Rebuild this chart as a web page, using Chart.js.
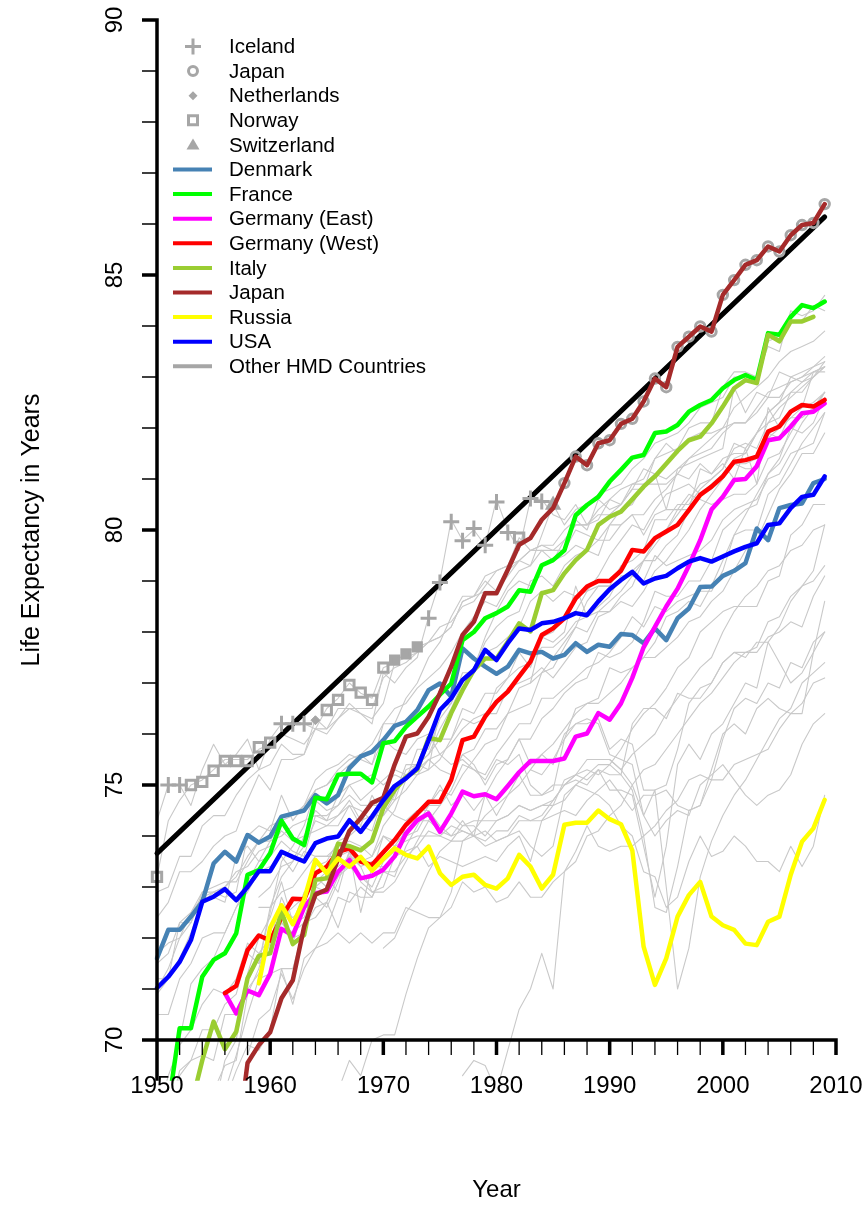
<!DOCTYPE html>
<html>
<head>
<meta charset="utf-8">
<script src="https://cdn.jsdelivr.net/npm/chart.js@4.4.1/dist/chart.umd.min.js"></script>
<style>
html, body { margin: 0; padding: 0; background: #fff; }
canvas { display: block; }
</style>
</head>
<body>
<canvas id="leChart" width="866" height="1205"></canvas>
<script>
// female life expectancy (one value per year)
const denmark = [ // from 1950
  71.60, 72.16, 72.16, 72.42, 72.71, 73.46, 73.69, 73.50, 74.02, 73.87,
  73.99, 74.38, 74.44, 74.50, 74.80, 74.64, 74.80, 75.33, 75.56, 75.65,
  75.88, 76.16, 76.24, 76.47, 76.86, 76.99, 76.73, 77.68, 77.48, 77.32,
  77.18, 77.32, 77.65, 77.58, 77.61, 77.48, 77.55, 77.78, 77.61, 77.75,
  77.71, 77.96, 77.94, 77.78, 78.07, 77.84, 78.27, 78.46, 78.88, 78.89,
  79.10, 79.20, 79.35, 80.03, 79.80, 80.43, 80.49, 80.52, 80.92, 81.00];
const france = [ // from 1950
  69.00, 68.70, 70.23, 70.23, 71.24, 71.57, 71.70, 72.09, 73.24, 73.33,
  73.66, 74.30, 73.95, 73.82, 74.75, 74.72, 75.20, 75.22, 75.22, 75.05,
  75.82, 75.86, 76.14, 76.34, 76.54, 76.77, 76.99, 77.84, 78.00, 78.27,
  78.37, 78.50, 78.82, 78.79, 79.31, 79.41, 79.60, 80.29, 80.49, 80.65,
  80.95, 81.18, 81.42, 81.47, 81.90, 81.93, 82.06, 82.32, 82.45, 82.55,
  82.78, 82.94, 83.04, 82.94, 83.86, 83.83, 84.18, 84.41, 84.35, 84.48];
const germanyEast = [ // from 1956
  70.92, 70.52, 70.97, 70.88,
  71.30, 72.18, 72.05, 72.60, 72.88, 72.91, 73.30, 73.53, 73.17, 73.22,
  73.34, 73.60, 74.05, 74.31, 74.44, 74.08, 74.44, 74.87, 74.78, 74.82,
  74.72, 74.98, 75.25, 75.47, 75.47, 75.47, 75.52, 75.95, 76.01, 76.41,
  76.28, 76.60, 77.10, 77.70, 78.10, 78.50, 78.85, 79.30, 79.80, 80.40,
  80.65, 80.98, 81.00, 81.25, 81.76, 81.80, 82.03, 82.29, 82.32, 82.48];
const germanyWest = [ // from 1956
  70.92, 71.06, 71.76, 72.05,
  71.95, 72.40, 72.77, 72.76, 73.27, 73.40, 73.69, 73.76, 73.50, 73.43,
  73.68, 73.92, 74.22, 74.44, 74.67, 74.67, 75.10, 75.88, 75.95, 76.34,
  76.63, 76.83, 77.13, 77.42, 77.94, 78.07, 78.27, 78.66, 78.89, 79.00,
  79.00, 79.20, 79.61, 79.58, 79.84, 79.97, 80.10, 80.39, 80.69, 80.85,
  81.05, 81.34, 81.37, 81.44, 81.93, 82.03, 82.32, 82.45, 82.42, 82.55];
const italy = [ // from 1953, ends 2008
  68.70, 69.60, 70.36, 69.82, 70.16, 71.21, 71.65,
  71.70, 72.52, 71.88, 72.06, 73.14, 73.17, 73.85, 73.80, 73.72, 73.90,
  74.55, 74.90, 75.15, 75.30, 75.92, 75.88, 76.41, 76.86, 77.25, 77.48,
  77.48, 77.81, 78.17, 78.01, 78.76, 78.82, 79.15, 79.41, 79.61, 80.10,
  80.26, 80.36, 80.60, 80.85, 81.05, 81.30, 81.55, 81.76, 81.83, 82.09,
  82.42, 82.78, 82.94, 82.88, 83.83, 83.70, 84.09, 84.09, 84.18];
const japan = [ // from 1957
  67.80, 69.55, 69.90,
  70.15, 70.82, 71.17, 72.22, 72.85, 72.95, 73.55, 74.10, 74.35, 74.65,
  74.75, 75.40, 75.95, 76.01, 76.34, 76.80, 77.32, 77.94, 78.20, 78.76,
  78.76, 79.22, 79.71, 79.84, 80.20, 80.43, 80.92, 81.44, 81.27, 81.70,
  81.76, 82.08, 82.18, 82.52, 82.97, 82.80, 83.59, 83.79, 83.99, 83.89,
  84.61, 84.90, 85.20, 85.29, 85.56, 85.46, 85.78, 85.98, 86.02, 86.39];
const russia = [ // from 1959
  71.11,
  72.20, 72.64, 72.27, 72.75, 73.53, 73.27, 73.56, 73.40, 73.59, 73.32,
  73.55, 73.76, 73.63, 73.56, 73.79, 73.27, 73.04, 73.20, 73.24, 73.04,
  72.97, 73.17, 73.63, 73.40, 72.97, 73.24, 74.22, 74.26, 74.26, 74.50,
  74.33, 74.23, 73.72, 71.83, 71.08, 71.60, 72.42, 72.84, 73.10, 72.42,
  72.25, 72.16, 71.89, 71.86, 72.32, 72.42, 73.24, 73.89, 74.15, 74.71];
const usa = [ // from 1950
  71.02, 71.24, 71.53, 71.96, 72.71, 72.81, 72.96, 72.74, 73.00, 73.31,
  73.31, 73.69, 73.59, 73.50, 73.86, 73.95, 73.99, 74.31, 74.08, 74.38,
  74.70, 74.98, 75.13, 75.33, 75.88, 76.47, 76.70, 77.06, 77.25, 77.65,
  77.45, 77.78, 78.07, 78.04, 78.17, 78.20, 78.27, 78.37, 78.33, 78.60,
  78.84, 79.02, 79.18, 78.95, 79.05, 79.10, 79.25, 79.38, 79.45, 79.38,
  79.48, 79.58, 79.67, 79.74, 80.10, 80.13, 80.43, 80.65, 80.69, 81.05];
const mainStart = [1950, 1950, 1956, 1956, 1953, 1957, 1959, 1950];

// record holders (grey symbols)
const recIcelandYears = [1951, 1952, 1961, 1962, 1963, 1974, 1975, 1976, 1977, 1978, 1979, 1980, 1981, 1983, 1984];
const recIcelandVals = [75.0, 75.0, 76.2, 76.2, 76.2, 78.27, 78.97, 80.16, 79.79, 80.03, 79.7, 80.55, 79.95, 80.62, 80.56];
const recJapanYears = [1986, 1987, 1988, 1989, 1990, 1991, 1992, 1993, 1994, 1995, 1996, 1997,
  1998, 1999, 2000, 2001, 2002, 2003, 2004, 2005, 2006, 2007, 2008, 2009];
const recJapanVals = [80.92, 81.44, 81.27, 81.70, 81.76, 82.08, 82.18, 82.52, 82.97, 82.80, 83.59, 83.79,
  83.99, 83.89, 84.61, 84.90, 85.20, 85.29, 85.56, 85.46, 85.78, 85.98, 86.02, 86.39];
const recNetherlandsYears = [1964, 1971, 1972, 1973];
const recNetherlandsVals = [76.27, 77.45, 77.57, 77.71];
const recNorwayYears = [1950, 1953, 1954, 1955, 1956, 1957, 1958, 1959, 1960, 1965, 1966, 1967, 1968, 1969, 1970, 1982];
const recNorwayVals = [73.2, 75.0, 75.06, 75.28, 75.47, 75.47, 75.47, 75.74, 75.83, 76.47, 76.67, 76.96, 76.81, 76.67, 77.3, 79.85];
const recSwitzerlandYears = [1985];
const recSwitzerlandVals = [80.49];

// black best-practice line, end points
const bestYears = [1950, 2009];
const bestVals = [73.66, 86.14];

// other HMD countries (thin grey lines)
const oth01 = [74.3, 75.0, 75.0, 74.6, 75.3, 75.8, 75.4, 75.6, 75.9, 75.3, 75.9, 76.2, 76.2, 76.2, 76.1, 76.0, 76.3, 76.6, 76.4, 76.2,
  77.2, 77.0, 77.3, 77.5, 78.3, 79.0, 80.2, 79.8, 80.0, 79.7, 80.6, 80.0, 79.6, 80.6, 80.6, 80.3, 80.2, 80.5, 80.1, 80.4,
  80.6, 80.5, 80.8, 81.2, 81.1, 80.4, 81.2, 81.3, 81.4, 81.5, 81.6, 82.8, 82.3, 82.7, 82.6, 83.1, 83.0, 83.1, 83.2, 83.4];
const oth02 = [73.2, 74.3, 74.7, 75.0, 75.1, 75.3, 75.5, 75.5, 75.5, 75.7, 75.8, 76.0, 75.9, 75.8, 76.1, 76.5, 76.7, 77.0, 76.8, 76.7,
  77.3, 77.4, 77.5, 77.6, 77.8, 78.1, 78.2, 78.5, 78.6, 78.9, 79.2, 79.3, 79.85, 79.6, 79.6, 79.4, 79.5, 79.7, 79.6, 79.8,
  79.8, 80.1, 80.3, 80.3, 80.6, 80.8, 81.1, 81.0, 81.3, 81.1, 81.4, 81.5, 81.5, 81.9, 82.3, 82.5, 82.7, 82.7, 83.0, 83.2];
const oth03 = [72.9, 73.0, 73.6, 73.6, 74.2, 74.4, 74.4, 74.8, 75.1, 75.3, 75.4, 75.8, 75.6, 75.6, 76.3, 76.1, 76.3, 76.5, 76.4, 76.3,
  76.6, 77.4, 77.6, 77.7, 77.8, 77.9, 78.1, 78.6, 78.7, 79.1, 79.2, 79.3, 79.4, 79.6, 79.7, 79.6, 79.6, 80.0, 79.9, 79.8,
  80.1, 80.1, 80.3, 79.9, 80.3, 80.4, 80.4, 80.7, 80.6, 80.5, 80.6, 80.7, 80.7, 80.9, 81.4, 81.5, 81.9, 82.3, 82.3, 82.7];
const oth04 = [72.4, 72.7, 73.3, 73.3, 73.5, 73.8, 74.0, 74.1, 74.7, 75.2, 74.9, 75.5, 75.5, 75.6, 76.1, 76.1, 76.5, 76.5, 76.5, 76.5,
  77.1, 77.3, 77.4, 77.6, 77.8, 77.9, 78.1, 78.6, 78.7, 78.8, 78.8, 79.1, 79.4, 79.6, 79.7, 79.7, 80.0, 80.2, 80.0, 80.6,
  80.4, 80.5, 80.8, 80.8, 81.4, 81.7, 81.5, 81.8, 81.9, 81.9, 82.0, 82.1, 82.1, 82.4, 82.7, 82.8, 82.9, 83.0, 83.2, 83.3];
const oth05 = [71.0, 71.4, 72.0, 72.3, 72.8, 72.9, 72.8, 72.9, 74.0, 74.2, 74.1, 74.8, 74.3, 74.6, 75.1, 75.3, 75.4, 75.6, 75.5, 75.4,
  76.2, 76.2, 76.7, 77.0, 77.5, 77.8, 78.3, 78.7, 78.7, 79.0, 78.8, 79.2, 79.4, 79.3, 79.9, 80.5, 80.1, 80.4, 80.5, 80.7,
  80.8, 80.9, 81.2, 81.4, 81.7, 81.8, 81.9, 82.1, 82.4, 82.5, 82.6, 83.0, 83.0, 83.0, 83.7, 83.8, 84.1, 84.1, 84.4, 84.3];
const oth06 = [64.3, 65.0, 66.9, 67.6, 68.8, 69.0, 69.5, 69.6, 70.9, 71.4, 72.2, 72.6, 72.4, 72.6, 73.4, 73.5, 73.9, 74.0, 74.2, 74.1,
  74.8, 74.7, 75.3, 75.4, 75.6, 76.1, 76.5, 77.0, 77.3, 77.9, 78.4, 78.8, 79.0, 78.9, 79.3, 79.4, 79.8, 80.1, 80.1, 80.3,
  80.3, 80.5, 80.9, 81.0, 81.4, 81.5, 81.6, 82.0, 82.1, 82.1, 82.8, 83.1, 83.1, 83.0, 83.6, 83.5, 84.3, 84.2, 84.3, 84.6];
const oth07 = [71.7, 71.9, 72.0, 72.5, 72.8, 72.8, 72.7, 73.6, 73.8, 73.5, 73.9, 74.3, 73.9, 74.0, 74.1, 74.2, 74.2, 74.6, 74.2, 74.8,
  74.4, 74.8, 75.4, 75.4, 75.3, 76.5, 76.6, 77.1, 77.3, 77.8, 78.1, 78.3, 78.4, 79.0, 79.1, 78.9, 79.3, 79.5, 79.6, 79.5,
  80.1, 80.4, 80.5, 80.9, 80.9, 80.9, 81.1, 81.4, 81.6, 81.8, 82.0, 82.4, 82.6, 82.8, 83.0, 83.3, 83.5, 83.6, 83.7, 83.9];
const oth08 = [70.9, 71.2, 71.6, 72.1, 72.7, 72.9, 73.0, 73.2, 73.6, 73.9, 74.2, 74.3, 74.4, 74.6, 74.9, 75.0, 75.2, 75.4, 75.6, 75.8,
  76.2, 76.5, 76.6, 76.9, 77.1, 77.3, 77.6, 78.0, 78.3, 78.6, 78.5, 78.9, 79.2, 79.3, 79.6, 79.6, 79.8, 80.1, 80.1, 80.2,
  80.6, 80.8, 80.9, 80.9, 81.1, 81.0, 81.2, 81.4, 81.5, 81.6, 81.9, 82.1, 82.1, 82.3, 82.6, 82.6, 82.9, 83.0, 83.1, 83.2];
const oth09 = [71.2, 71.2, 72.3, 72.5, 72.9, 72.9, 73.0, 73.3, 73.4, 73.7, 73.8, 74.1, 73.9, 73.9, 74.7, 74.5, 74.6, 75.0, 74.7, 74.9,
  75.1, 75.3, 75.2, 75.4, 75.6, 75.9, 75.9, 76.3, 76.2, 76.3, 76.9, 77.1, 77.3, 77.4, 77.7, 77.7, 77.9, 78.2, 78.3, 78.4,
  78.6, 78.8, 79.1, 79.0, 79.5, 79.3, 79.4, 79.5, 79.6, 79.8, 80.2, 80.4, 80.5, 80.6, 81.0, 81.1, 81.5, 81.6, 81.7, 82.3];
const oth10 = [70.5, 70.5, 71.2, 71.5, 72.0, 72.1, 72.1, 72.6, 73.1, 73.5, 73.6, 73.9, 73.7, 73.6, 74.4, 74.3, 74.4, 74.7, 74.3, 74.4,
  74.4, 74.7, 74.9, 75.2, 75.3, 75.5, 75.9, 76.5, 76.4, 76.8, 76.8, 77.1, 77.6, 77.3, 77.9, 78.0, 78.3, 78.4, 78.8, 79.1,
  79.5, 79.8, 80.1, 80.0, 80.4, 80.7, 80.8, 80.9, 80.7, 80.8, 81.0, 81.3, 81.2, 81.2, 81.9, 81.8, 82.3, 82.4, 82.5, 82.7];
const oth11 = [67.9, 68.5, 69.4, 69.6, 70.2, 70.2, 70.7, 70.9, 71.7, 71.5, 71.9, 72.8, 72.3, 72.4, 73.0, 72.9, 73.3, 73.4, 73.2, 73.0,
  73.5, 73.7, 74.0, 74.4, 74.6, 74.6, 75.1, 75.6, 75.7, 76.1, 76.1, 76.4, 76.5, 76.6, 77.2, 77.3, 77.7, 78.1, 78.6, 78.9,
  78.9, 79.0, 79.2, 79.4, 79.7, 80.0, 80.3, 80.6, 80.9, 81.0, 81.2, 81.6, 81.7, 81.6, 82.1, 82.2, 82.7, 82.9, 83.1, 83.2];
const oth12 = [68.5, 69.3, 69.9, 70.2, 70.7, 71.0, 70.9, 71.2, 71.9, 71.7, 71.7, 72.3, 72.1, 72.3, 72.4, 72.7, 73.2, 73.6, 73.5, 73.6,
  74.2, 74.5, 75.1, 75.7, 75.7, 76.3, 76.6, 77.2, 77.2, 77.6, 77.7, 77.9, 78.1, 78.6, 78.8, 78.6, 78.8, 78.7, 78.8, 78.9,
  78.9, 79.3, 79.4, 79.6, 80.2, 80.2, 80.5, 80.5, 80.8, 81.0, 81.2, 81.7, 81.6, 81.9, 82.3, 82.5, 83.0, 82.9, 83.0, 83.3];
const oth13 = [71.5, 71.7, 72.3, 72.3, 72.9, 73.0, 73.1, 73.1, 73.5, 73.9, 73.9, 74.0, 74.2, 74.3, 74.4, 74.4, 74.6, 74.8, 74.6, 74.6,
  74.6, 75.0, 75.2, 75.2, 75.5, 75.6, 75.8, 76.1, 76.3, 76.4, 76.4, 76.9, 77.0, 77.1, 77.3, 77.1, 77.4, 77.7, 77.8, 78.3,
  78.4, 78.7, 78.9, 79.4, 79.4, 79.7, 79.9, 80.4, 80.7, 80.9, 81.1, 81.3, 81.3, 81.4, 81.8, 82.0, 82.2, 82.2, 82.4, 82.7];
const oth14 = [67.1, 67.7, 69.3, 69.6, 69.7, 69.6, 70.5, 70.5, 71.0, 71.3, 71.9, 72.3, 72.0, 72.1, 73.0, 73.2, 72.9, 73.7, 73.4, 73.5,
  73.5, 73.8, 74.1, 74.3, 74.3, 74.6, 74.9, 75.4, 75.3, 75.2, 75.6, 75.9, 76.2, 76.2, 76.7, 76.7, 76.9, 77.1, 77.3, 77.4,
  77.6, 77.9, 78.3, 78.1, 78.5, 78.4, 78.6, 78.7, 78.8, 78.8, 79.2, 79.9, 80.3, 80.7, 81.1, 81.3, 81.7, 82.1, 82.4, 82.7];
const oth15 = [72.2, 72.5, 71.9, 72.6, 72.8, 72.6, 73.1, 73.7, 72.5, 73.4,
  73.4, 73.6, 74.2, 74.4, 74.6, 74.9, 74.8, 75.2, 75.5, 75.8, 75.9, 76.4, 76.9, 77.0, 77.9, 77.8, 78.0, 78.9, 78.3, 78.5,
  78.7, 79.1, 79.1, 79.4, 79.8, 80.0, 80.4, 80.4, 81.2, 81.1, 81.3, 81.0, 81.6, 80.9, 82.4, 82.0, 82.2, 82.4, 83.1, 83.1];
const oth16 = [61.5, 61.6, 63.0, 63.8, 64.5, 64.9, 64.2, 65.0, 66.2, 66.4, 66.9, 66.4, 67.3, 67.5, 68.3, 68.6, 69.0, 69.6, 69.3, 70.0,
  70.1, 70.1, 70.9, 71.6, 72.2, 72.4, 72.9, 73.9, 74.0, 74.8, 75.2, 75.5, 75.9, 75.9, 76.3, 76.5, 76.8, 77.0, 77.1, 77.6,
  77.5, 77.6, 77.8, 78.2, 78.8, 78.7, 78.7, 79.0, 79.0, 79.4, 80.0, 80.2, 80.4, 80.5, 81.1, 81.4, 82.0, 81.9, 82.1, 82.6];
const oth17 = [68.5, 69.0, 70.0, 71.1, 71.4, 71.6, 72.1, 72.6, 72.9, 73.3, 73.4, 73.6, 73.3, 73.7, 73.6, 73.6, 73.6, 73.7, 73.1, 72.9,
  73.0, 73.6, 73.7, 73.8, 74.1, 74.0, 74.2, 74.1, 74.0, 74.1, 73.9, 74.0, 74.3, 74.3, 74.3, 74.6, 74.7, 75.0, 75.2, 75.4,
  75.4, 75.7, 76.1, 76.4, 76.6, 76.9, 77.3, 77.5, 78.0, 78.2, 78.4, 78.5, 78.5, 78.5, 79.0, 79.1, 79.9, 80.1, 80.5, 80.5];
const oth18 = [61.0, 63.5, 65.3, 66.3, 67.3, 68.6, 69.6, 70.0, 71.3, 72.0, 72.4, 73.1, 72.3, 72.9, 73.1, 73.3, 73.4, 73.6, 73.4, 72.9,
  72.9, 73.1, 73.5, 73.9, 74.3, 74.1, 74.4, 74.2, 74.3, 74.3, 74.3, 74.4, 74.6, 74.5, 74.6, 74.7, 75.0, 75.2, 75.3, 75.2,
  75.4, 75.2, 76.2, 76.5, 76.5, 76.3, 76.8, 76.7, 76.7, 77.0, 77.4, 77.6, 77.6, 77.6, 77.9, 78.0, 78.2, 78.1, 78.7, 79.1];
const oth19 = [65.3, 66.8, 67.5, 67.6, 68.6, 68.9, 68.8, 69.4, 69.9, 69.8, 70.2, 71.4, 70.7, 71.6, 71.8, 71.9, 72.1, 71.9, 72.1, 71.9,
  72.1, 72.1, 72.6, 72.5, 72.4, 72.4, 72.6, 73.1, 72.9, 73.0, 72.7, 72.8, 73.1, 72.8, 72.8, 73.1, 73.3, 73.7, 74.2, 73.8,
  73.7, 73.8, 73.8, 74.0, 74.2, 74.5, 74.7, 75.1, 75.2, 75.1, 75.9, 76.5, 76.7, 76.6, 77.0, 76.9, 77.4, 77.3, 77.8, 78.0];
const oth20 = [69.7, 70.4,
  70.6, 71.3, 70.8, 71.4, 71.8, 72.2, 72.8, 72.7, 73.0, 72.8, 73.3, 73.2, 73.8, 74.2, 74.6, 75.0, 74.6, 74.8, 74.5, 74.8,
  74.4, 74.8, 75.2, 74.8, 74.8, 75.0, 75.0, 75.2, 75.5, 75.5, 75.5, 75.3, 75.6, 75.8, 76.0, 76.4, 76.7, 77.0, 77.3, 77.5,
  78.0, 78.4, 78.7, 78.9, 79.2, 79.3, 79.6, 79.7, 80.0, 80.1];
const oth21 = [63.6, 64.1, 65.9, 67.2, 67.7, 68.7, 69.0, 69.7, 70.5, 71.2, 71.3, 71.4, 71.4, 72.2, 72.6, 72.7, 72.2, 72.9, 72.8, 72.8,
  73.3, 73.3, 73.6, 73.8, 73.4, 73.6, 73.5, 73.4, 73.5, 73.6, 73.5, 73.8, 74.0, 73.5, 74.3, 74.4, 74.5, 74.4, 74.7, 74.9,
  75.1, 74.8, 74.5, 74.8, 74.8, 74.9, 74.6, 74.5, 74.6, 75.1, 75.1, 75.4, 75.5, 75.6, 75.7, 76.1, 76.4, 76.6, 77.0, 77.1];
const oth22 = [71.7,
  72.0, 72.4, 72.6, 72.8, 73.2, 73.0, 73.2, 73.4, 73.6, 73.3, 74.0, 73.9, 74.0, 74.1, 74.5, 74.1, 74.0, 74.3, 74.0, 73.9,
  74.1, 74.1, 74.4, 74.3, 74.4, 74.7, 75.0, 75.1, 75.0, 75.3, 74.9, 74.9, 74.8, 73.8, 72.8, 73.8, 75.4, 75.8, 75.5, 76.0,
  76.2, 76.6, 77.0, 76.9, 77.8, 78.1, 78.6, 78.9, 79.2, 80.1];
const oth23 = [72.6,
  72.6, 72.9, 73.0, 73.3, 73.6, 73.6, 73.8, 73.9, 73.8, 73.6, 74.0, 73.8, 73.9, 74.0, 74.0, 74.0, 73.9, 74.2, 74.2, 74.0,
  74.3, 74.4, 74.6, 74.5, 74.6, 74.6, 75.1, 75.2, 75.1, 75.3, 75.2, 75.2, 74.9, 74.0, 72.6, 72.5, 73.4, 74.5, 74.6, 75.3,
  76.0, 76.2, 76.0, 76.5, 76.7, 76.5, 76.4, 76.4, 77.6, 78.0];
const oth24 = [71.5,
  72.6, 73.2, 73.5, 74.0, 74.5, 74.3, 74.8, 75.0, 75.1, 75.2, 75.0, 75.2, 75.1, 75.3, 75.5, 75.3, 75.2, 75.6, 75.4, 75.0,
  75.4, 75.5, 75.9, 75.4, 75.6, 75.4, 76.0, 76.2, 76.2, 76.3, 75.7, 75.9, 75.8, 74.9, 74.9, 75.0, 75.7, 76.6, 76.9, 77.0,
  77.4, 77.6, 77.5, 77.8, 77.8, 77.4, 77.0, 77.2, 77.6, 78.6];
const oth25 = [71.5,
  72.5, 73.5, 73.8, 74.2, 74.9, 75.0, 75.3, 75.5, 75.6, 75.4, 75.9, 75.7, 75.6, 75.9, 76.0, 75.6, 75.4, 75.5, 75.3, 75.1,
  75.5, 75.4, 75.6, 75.0, 74.8, 74.9, 75.9, 76.2, 76.3, 76.2, 75.6, 75.5, 75.4, 74.4, 74.0, 74.3, 74.5, 74.4, 75.0, 75.2,
  75.4, 75.1, 74.8, 74.6, 74.8, 74.9, 75.2, 75.8, 76.2, 76.4];
const oth26 = [72.8,
  73.0, 73.4, 73.5, 73.8, 74.3, 74.2, 74.4, 74.6, 74.5, 74.3, 74.6, 74.4, 74.3, 74.5, 74.5, 74.2, 74.0, 74.1, 74.0, 73.8,
  73.9, 74.0, 74.1, 73.8, 73.6, 73.8, 74.8, 75.0, 74.9, 74.8, 74.6, 74.2, 74.0, 73.3, 73.2, 72.6, 72.8, 73.5, 74.0, 73.6,
  73.7, 74.0, 73.8, 73.5, 73.5, 73.3, 73.8, 73.4, 73.8, 74.8];
const oth27 = [71.8, 72.0, 72.5, 72.8, 73.3, 73.7, 73.9, 73.9, 74.1, 74.4, 74.6, 74.8, 75.0, 75.3, 75.6, 75.8, 76.1, 76.4, 76.6, 76.6,
  76.8, 77.0, 77.3, 77.5, 77.5, 77.7, 77.9, 78.2, 78.3, 78.6, 78.8, 79.2, 79.6, 79.8, 80.3, 80.8, 81.1, 81.5, 81.5, 81.9];
const oth28 = [77.0, 77.2, 77.5, 77.8, 78.1, 78.0, 78.4,
  78.4, 78.6, 78.5, 78.8, 79.2, 79.4, 79.7, 80.0, 80.4, 80.7, 81.0, 81.4, 81.5, 81.9, 82.1, 82.4, 82.6, 82.8, 83.0, 83.2];
const oth29 = [75.3, 75.2, 75.5, 75.9, 76.5, 76.6, 76.7,
  77.3, 77.2, 77.3, 77.5, 77.8, 78.3, 78.4, 78.6, 78.5, 78.9, 79.4, 79.9, 80.0, 80.0, 80.7, 80.9, 81.3, 81.7, 82.0, 82.3];
const oth30 = [69.3, 69.6, 69.5,
  69.0, 69.8, 70.6, 71.0, 71.7, 71.0, 73.3, 73.5, 74.0, 74.1, 74.4, 74.6, 75.0, 75.3, 75.4, 75.7, 76.0, 76.3, 76.6, 76.8,
  77.1, 77.4, 77.6, 77.7, 78.2, 78.3, 78.7, 78.9, 79.0, 79.3];
const oth31 = [75.5, 75.3, 75.0, 74.4, 74.9, 73.0, 71.0, 71.8, 73.2, 73.9,
  74.4, 74.8, 75.1, 75.5, 75.9, 76.3, 76.5, 77.0, 77.2, 77.4];
const otherSeries = [oth01, oth02, oth03, oth04, oth05, oth06, oth07, oth08, oth09, oth10, oth11, oth12, oth13, oth14, oth15, oth16,
  oth17, oth18, oth19, oth20, oth21, oth22, oth23, oth24, oth25, oth26, oth27, oth28, oth29, oth30, oth31];
const otherStart = [1950, 1950, 1950, 1950, 1950, 1950, 1950, 1950, 1950, 1950, 1950, 1950, 1950, 1950, 1960, 1950,
  1950, 1950, 1950, 1958, 1950, 1959, 1959, 1959, 1959, 1959, 1970, 1983, 1983, 1977, 1990];

// axes
const xMajorTicks = [1950, 1960, 1970, 1980, 1990, 2000, 2010];
const xMinorTicks = [1952, 1954, 1956, 1958, 1962, 1964, 1966, 1968, 1972, 1974, 1976, 1978,
  1982, 1984, 1986, 1988, 1992, 1994, 1996, 1998, 2002, 2004, 2006, 2008];
const yMajorTicks = [70, 75, 80, 85, 90];
const yMinorTicks = [71, 72, 73, 74, 76, 77, 78, 79, 81, 82, 83, 84, 86, 87, 88, 89];
const xTitle = 'Year';
const yTitle = 'Life Expectancy in Years';

const mainNames = ['Denmark', 'France', 'Germany (East)', 'Germany (West)', 'Italy', 'Japan', 'Russia', 'USA'];
const mainColors = ['#4682b4', '#00ff00', '#ff00ff', '#ff0000', '#9acd32', '#a52a2a', '#ffff00', '#0000ff'];
const mainValues = [denmark, france, germanyEast, germanyWest, italy, japan, russia, usa];

const GREY_SYM = '#a6a6a6';
const GREY_LINE = '#c9c9c9';
const FONT = '"Liberation Sans", Arial, Helvetica, sans-serif';

function fromStart(start, values) {
  return values.map((v, i) => ({ x: start + i, y: v }));
}
function pairUp(years, values) {
  return years.map((yr, i) => ({ x: yr, y: values[i] }));
}

const datasets = [];
// colored lines: USA on top
mainValues.forEach((vals, i) => {
  datasets.push({
    label: mainNames[i],
    data: fromStart(mainStart[i], vals),
    borderColor: mainColors[i],
    borderWidth: 4.5,
    pointRadius: 0,
    order: 8 - i
  });
});
function recordSet(label, years, vals, style, radius, filled) {
  return {
    label: label,
    data: pairUp(years, vals),
    showLine: false,
    pointStyle: style,
    pointRadius: radius,
    pointBorderWidth: 3,
    pointBorderColor: GREY_SYM,
    pointBackgroundColor: filled ? GREY_SYM : 'rgba(0,0,0,0)',
    order: 10
  };
}
datasets.push(recordSet('Iceland', recIcelandYears, recIcelandVals, 'cross', 8, false));
datasets.push(recordSet('Japan', recJapanYears, recJapanVals, 'circle', 4.7, false));
const ned = recordSet('Netherlands', recNetherlandsYears, recNetherlandsVals, ['rectRot', 'rect', 'rect', 'rect'], [4.5, 5.8, 5.8, 5.8], true);
ned.pointBorderWidth = [1, 3, 3, 3];
datasets.push(ned);
datasets.push(recordSet('Norway', recNorwayYears, recNorwayVals, 'rect', 6.6, false));
datasets.push(recordSet('Switzerland', recSwitzerlandYears, recSwitzerlandVals, 'triangle', 6.5, true));
datasets.push({
  label: 'best practice',
  data: pairUp(bestYears, bestVals),
  borderColor: '#000',
  borderWidth: 5,
  pointRadius: 0,
  order: 11
});
otherSeries.forEach((vals, i) => {
  datasets.push({
    label: 'other',
    data: fromStart(otherStart[i], vals),
    borderColor: GREY_LINE,
    borderWidth: 1.1,
    pointRadius: 0,
    order: 20
  });
});

const legendItems = [
  { text: 'Iceland', sym: 'cross' },
  { text: 'Japan', sym: 'circle' },
  { text: 'Netherlands', sym: 'diamond' },
  { text: 'Norway', sym: 'square' },
  { text: 'Switzerland', sym: 'triangle' }
].concat(mainNames.map((n, i) => ({ text: n, line: mainColors[i] })))
 .concat([{ text: 'Other HMD Countries', line: GREY_SYM }]);

const rAxes = {
  id: 'rAxes',
  afterDraw(chart) {
    const ctx = chart.ctx;
    const xs = chart.scales.x, ys = chart.scales.y;
    const left = xs.getPixelForValue(xMajorTicks[0]);
    const right = xs.getPixelForValue(xMajorTicks[xMajorTicks.length - 1]);
    const base = ys.getPixelForValue(yMajorTicks[0]);
    const top = ys.getPixelForValue(yMajorTicks[yMajorTicks.length - 1]);
    ctx.save();
    ctx.strokeStyle = '#000';
    ctx.lineCap = 'butt';
    ctx.lineWidth = 1.3;
    ctx.beginPath();
    xMinorTicks.forEach(v => { const p = xs.getPixelForValue(v); ctx.moveTo(p, base); ctx.lineTo(p, base + 15); });
    yMinorTicks.forEach(v => { const p = ys.getPixelForValue(v); ctx.moveTo(left, p); ctx.lineTo(left - 15, p); });
    ctx.stroke();
    ctx.lineWidth = 3.5;
    ctx.beginPath();
    xMajorTicks.forEach(v => { const p = xs.getPixelForValue(v); ctx.moveTo(p, base); ctx.lineTo(p, base + 15); });
    yMajorTicks.forEach(v => { const p = ys.getPixelForValue(v); ctx.moveTo(left, p); ctx.lineTo(left - 15, p); });
    ctx.moveTo(left, top - 1.75); ctx.lineTo(left, chart.chartArea.bottom);
    ctx.moveTo(left - 1.75, base); ctx.lineTo(right + 1.75, base);
    ctx.stroke();

    ctx.fillStyle = '#000';
    ctx.font = '24px ' + FONT;
    ctx.textAlign = 'center';
    ctx.textBaseline = 'alphabetic';
    xMajorTicks.forEach(v => ctx.fillText(String(v), xs.getPixelForValue(v), base + 53.5));
    yMajorTicks.forEach(v => {
      ctx.save();
      ctx.translate(left - 35, ys.getPixelForValue(v));
      ctx.rotate(-Math.PI / 2);
      ctx.fillText(String(v), 0, 0);
      ctx.restore();
    });
    ctx.fillText(xTitle, (left + right) / 2, base + 157);
    ctx.save();
    ctx.translate(39, (base + top) / 2);
    ctx.rotate(-Math.PI / 2);
    ctx.font = '25px ' + FONT;
    ctx.fillText(yTitle, 0, 0);
    ctx.restore();

    // legend
    const y0 = 46.5, step = 24.6, sx = 193;
    ctx.font = '20.5px ' + FONT;
    ctx.textAlign = 'left';
    ctx.textBaseline = 'middle';
    legendItems.forEach((it, i) => {
      const cy = y0 + i * step;
      ctx.strokeStyle = GREY_SYM;
      ctx.fillStyle = GREY_SYM;
      ctx.lineWidth = 3;
      ctx.beginPath();
      if (it.line) {
        ctx.strokeStyle = it.line;
        ctx.lineWidth = 4;
        ctx.moveTo(173, cy); ctx.lineTo(212, cy);
        ctx.stroke();
      } else if (it.sym === 'cross') {
        ctx.moveTo(sx - 8, cy); ctx.lineTo(sx + 8, cy);
        ctx.moveTo(sx, cy - 8); ctx.lineTo(sx, cy + 8);
        ctx.stroke();
      } else if (it.sym === 'circle') {
        ctx.arc(sx, cy, 4.5, 0, Math.PI * 2);
        ctx.stroke();
      } else if (it.sym === 'diamond') {
        ctx.moveTo(sx, cy - 4.5); ctx.lineTo(sx + 4.5, cy); ctx.lineTo(sx, cy + 4.5); ctx.lineTo(sx - 4.5, cy);
        ctx.closePath(); ctx.fill();
      } else if (it.sym === 'square') {
        ctx.rect(sx - 4.5, cy - 4.5, 9, 9);
        ctx.stroke();
      } else if (it.sym === 'triangle') {
        ctx.moveTo(sx, cy - 6.5); ctx.lineTo(sx + 6.5, cy + 4.5); ctx.lineTo(sx - 6.5, cy + 4.5);
        ctx.closePath(); ctx.fill();
      }
      ctx.fillStyle = '#000';
      ctx.fillText(it.text, 229, cy + 1);
    });
    ctx.restore();
  }
};

new Chart(document.getElementById('leChart'), {
  type: 'line',
  data: { datasets: datasets },
  options: {
    responsive: false,
    animation: false,
    events: [],
    layout: { autoPadding: false, padding: { left: 129.84, right: 2.84, top: 0, bottom: 124.2 } },
    elements: { line: { tension: 0, borderCapStyle: 'round', borderJoinStyle: 'round' } },
    scales: {
      x: { type: 'linear', min: 1947.6, max: 2012.4, display: false },
      y: { type: 'linear', min: 69.2, max: 90.392, display: false }
    },
    plugins: { legend: { display: false }, tooltip: { enabled: false } }
  },
  plugins: [rAxes]
});
</script>
</body>
</html>
